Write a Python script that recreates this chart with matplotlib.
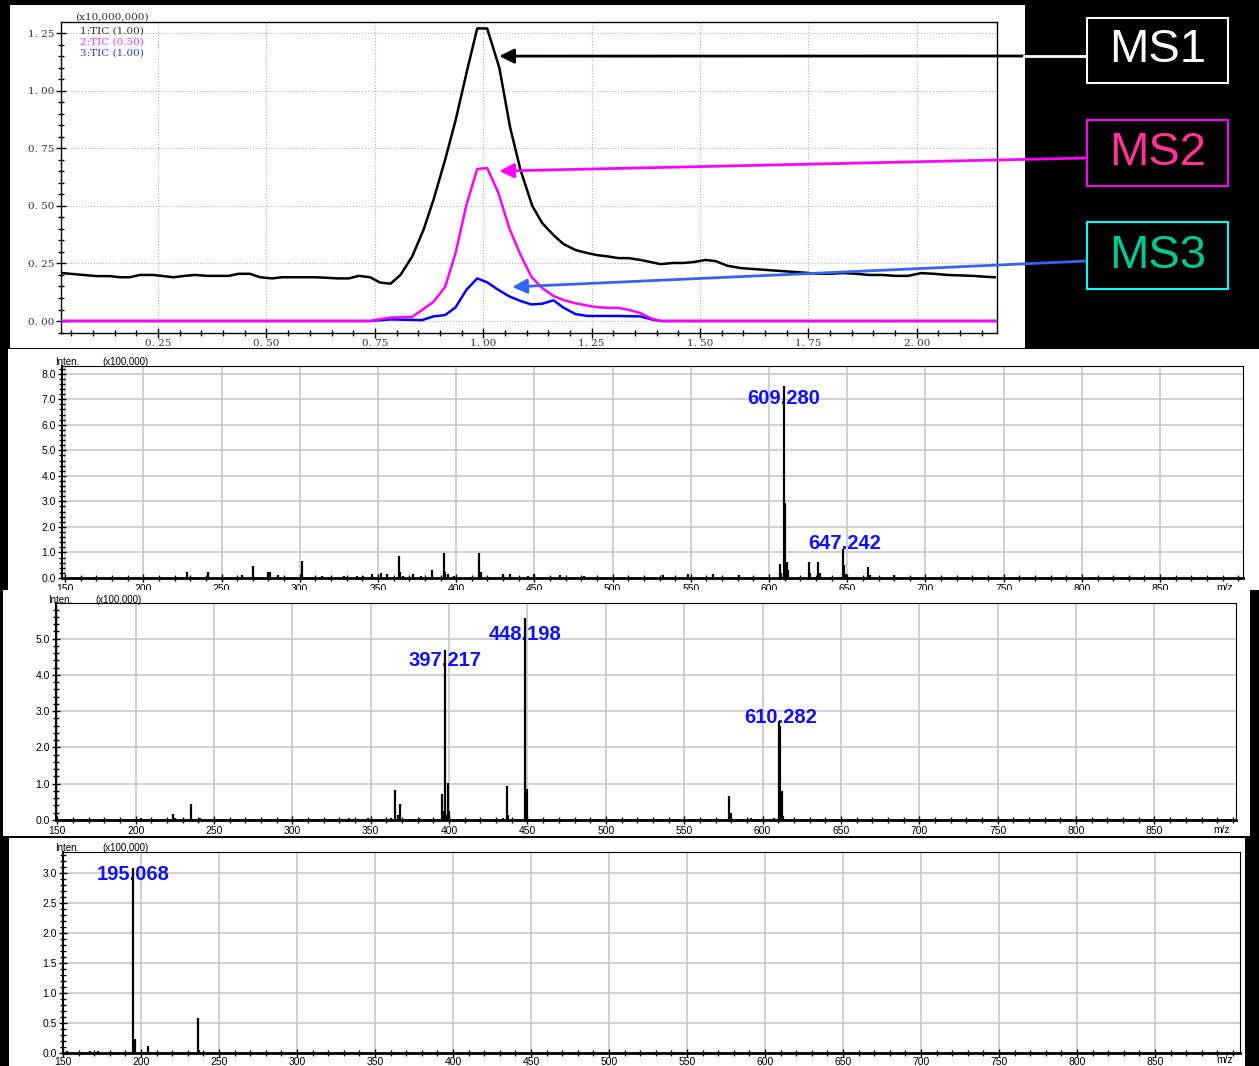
import matplotlib
matplotlib.use("Agg")
import matplotlib.pyplot as plt
from matplotlib.patches import Rectangle
from matplotlib.lines import Line2D
from matplotlib.ticker import MultipleLocator, FuncFormatter

# --- datos del cromatograma (min, x10,000,000) ---
ms1_t = [0.030, 0.077, 0.109, 0.139, 0.162, 0.185, 0.208, 0.238, 0.262, 0.285,
         0.312, 0.335, 0.363, 0.386, 0.413, 0.435, 0.462, 0.485, 0.513, 0.536,
         0.563, 0.586, 0.613, 0.636, 0.663, 0.690, 0.713, 0.739, 0.762, 0.786,
         0.809, 0.836, 0.862, 0.885, 0.912, 0.936, 0.963, 0.986, 1.009, 1.037,
         1.062, 1.086, 1.113, 1.136, 1.162, 1.185, 1.213, 1.240, 1.263, 1.289,
         1.312, 1.335, 1.363, 1.386, 1.409, 1.437, 1.462, 1.485, 1.513, 1.536,
         1.563, 1.593, 1.620, 1.650, 1.680, 1.710, 1.740, 1.770, 1.800, 1.830,
         1.860, 1.890, 1.920, 1.950, 1.980, 2.010, 2.040, 2.070, 2.100, 2.130,
         2.160, 2.180]
ms1_y = [0.208, 0.200, 0.195, 0.195, 0.190, 0.190, 0.200, 0.200, 0.195, 0.190,
         0.196, 0.200, 0.196, 0.196, 0.196, 0.205, 0.205, 0.190, 0.185, 0.190,
         0.190, 0.190, 0.190, 0.188, 0.185, 0.185, 0.196, 0.190, 0.167, 0.162,
         0.200, 0.280, 0.395, 0.525, 0.700, 0.870, 1.090, 1.270, 1.270, 1.100,
         0.840, 0.655, 0.500, 0.425, 0.373, 0.334, 0.308, 0.295, 0.286, 0.280,
         0.273, 0.273, 0.265, 0.256, 0.247, 0.252, 0.252, 0.256, 0.265, 0.260,
         0.240, 0.230, 0.226, 0.222, 0.218, 0.214, 0.210, 0.205, 0.205, 0.208,
         0.205, 0.200, 0.200, 0.196, 0.196, 0.208, 0.205, 0.200, 0.198, 0.196,
         0.192, 0.190]

ms2_t = [0.030, 0.739, 0.762, 0.786, 0.836, 0.859, 0.885, 0.912, 0.936, 0.961,
         0.986, 1.009, 1.035, 1.060, 1.086, 1.111, 1.136, 1.162, 1.185, 1.213,
         1.240, 1.263, 1.289, 1.312, 1.337, 1.363, 1.386, 1.409, 2.185]
ms2_y = [0.0, 0.0, 0.008, 0.015, 0.018, 0.048, 0.083, 0.148, 0.294, 0.503,
         0.660, 0.664, 0.556, 0.403, 0.287, 0.192, 0.143, 0.109, 0.091, 0.077,
         0.067, 0.060, 0.057, 0.057, 0.048, 0.034, 0.012, 0.0, 0.0]

ms3_t = [0.030, 0.739, 0.786, 0.859, 0.885, 0.912, 0.936, 0.961, 0.986, 1.009,
         1.035, 1.060, 1.086, 1.111, 1.136, 1.162, 1.185, 1.213, 1.240, 1.312,
         1.363, 1.386, 1.409, 2.185]
ms3_y = [0.0, 0.0, 0.007, 0.004, 0.020, 0.026, 0.059, 0.135, 0.185, 0.168,
         0.135, 0.107, 0.087, 0.072, 0.075, 0.090, 0.058, 0.030, 0.022, 0.022,
         0.020, 0.008, 0.0, 0.0]

tic_labels = ["1:TIC (1.00)", "2:TIC (0.50)", "3:TIC (1.00)"]
tic_colors = ["#000000", "#ff00ff", "#0000ff"]

# --- espectros (m/z, x100,000) ---
specA_mz = [221.0, 228.0, 230.5, 241.5, 250.5, 262.9, 269.8, 279.6, 280.7, 286.0,
            301.7, 314.0, 328.0, 336.5, 340.7, 346.0, 352.0, 356.0, 363.5, 364.3,
            366.2, 372.2, 377.5, 384.7, 392.0, 393.0, 394.7, 398.3, 414.5, 415.7,
            430.0, 434.5, 446.0, 449.9, 466.5, 482.0, 532.0, 548.4, 564.0, 581.0,
            607.0, 607.6, 609.28, 610.28, 611.3, 612.2, 625.3, 626.3, 631.2, 632.4,
            647.242, 648.2, 649.3, 663.2, 664.3, 679.6]
specA_int = [0.05, 0.25, 0.05, 0.25, 0.05, 0.10, 0.47, 0.22, 0.22, 0.10,
             0.66, 0.06, 0.06, 0.06, 0.06, 0.15, 0.20, 0.16, 0.86, 0.25,
             0.06, 0.15, 0.07, 0.31, 0.96, 0.25, 0.15, 0.07, 0.96, 0.25,
             0.15, 0.15, 0.07, 0.15, 0.12, 0.07, 0.12, 0.15, 0.16, 0.10,
             0.55, 0.20, 7.50, 2.94, 0.64, 0.30, 0.63, 0.20, 0.63, 0.20,
             1.12, 0.50, 0.16, 0.42, 0.12, 0.10]
specA_tags = ["609.280", "647.242"]

specB_mz = [203.7, 223.9, 225.0, 235.6, 241.3, 336.0, 348.3, 354.6, 363.0, 365.2,
            367.2, 368.4, 381.0, 395.6, 396.3, 397.217, 398.3, 399.1, 400.0, 412.8,
            434.3, 436.7, 437.8, 448.198, 449.7, 578.4, 579.8, 592.4, 607.3, 610.282,
            611.1, 612.4, 613.3]
specB_int = [0.05, 0.16, 0.05, 0.44, 0.05, 0.05, 0.05, 0.03, 0.06, 0.83,
             0.14, 0.44, 0.06, 0.72, 0.25, 4.68, 0.14, 1.02, 0.25, 0.04,
             0.06, 0.94, 0.15, 5.56, 0.86, 0.65, 0.20, 0.05, 0.06, 2.73,
             2.60, 0.81, 0.10]
specB_tags = ["397.217", "448.198", "610.282"]

specC_mz = [152.5, 167.5, 172.2, 195.068, 196.1, 204.3, 236.3, 237.2]
specC_int = [0.03, 0.04, 0.04, 3.08, 0.24, 0.11, 0.58, 0.05]
specC_tags = ["195.068"]

mz_ticks = [150, 200, 250, 300, 350, 400, 450, 500, 550, 600, 650, 700, 750, 800, 850]

W, H = 1259, 1066


def frac(x0, y0, x1, y1):
    return [x0 / W, 1 - y1 / H, (x1 - x0) / W, (y1 - y0) / H]


def fp(px, py):
    return px / W, 1 - py / H


fig = plt.figure(figsize=(W / 100, H / 100), dpi=100, facecolor="black")


def panel(x0, y0, x1, y1, z):
    fig.add_artist(Rectangle((x0 / W, 1 - y1 / H), (x1 - x0) / W, (y1 - y0) / H,
                             transform=fig.transFigure, fc="white", ec="none", zorder=z))


# ---------------- cromatograma ----------------
panel(10, 5, 1025, 348, 0.5)
ax0 = fig.add_axes(frac(61, 22, 997, 333), zorder=1)
ax0.plot(ms1_t, ms1_y, color=tic_colors[0], lw=1.8, zorder=3)
ax0.plot(ms3_t, ms3_y, color=tic_colors[2], lw=1.8, zorder=3)
ax0.plot(ms2_t, ms2_y, color=tic_colors[1], lw=1.8, zorder=3)
ax0.set_xlim(0.026, 2.185)
ax0.set_ylim(-0.052, 1.298)
ax0.set_xticks([0.25, 0.50, 0.75, 1.00, 1.25, 1.50, 1.75, 2.00])
ax0.set_yticks([0.0, 0.25, 0.50, 0.75, 1.00, 1.25])
ax0.xaxis.set_minor_locator(MultipleLocator(0.05))
ax0.yaxis.set_minor_locator(MultipleLocator(0.05))
fmt = FuncFormatter(lambda v, p: f"{v:.2f}".replace(".", ". "))
ax0.xaxis.set_major_formatter(fmt)
ax0.yaxis.set_major_formatter(fmt)
ax0.tick_params(which="major", direction="inout", length=7, width=1, labelsize=7.5,
                pad=1, labelcolor="#333333", labelfontfamily="DejaVu Serif")
ax0.tick_params(which="minor", direction="inout", length=4, width=1)
ax0.grid(True, which="major", ls=":", color="#b0b0b0", lw=0.8)
for s in ax0.spines.values():
    s.set_linewidth(1.0)

ax0.text(*fp(75, 17), "(x10,000,000)", transform=fig.transFigure, fontsize=7.5,
         family="DejaVu Serif", color="#333333", va="center", ha="left")
for i, (lab, col) in enumerate(zip(tic_labels, tic_colors)):
    ax0.text(*fp(80, 31 + 11 * i), lab, transform=fig.transFigure, fontsize=7.5,
             family="DejaVu Serif", color=col, va="center", ha="left", alpha=0.8)

# flechas hacia los picos
fT = fig.transFigure
ax0.annotate("", xy=(1.037, 1.15), xytext=fp(1025, 56), textcoords=fT,
             arrowprops=dict(arrowstyle="-|>", color="black", lw=2, mutation_scale=22,
                             shrinkA=0, shrinkB=0), annotation_clip=False)
fig.add_artist(Line2D([1024 / W, 1087 / W], [1 - 56 / H, 1 - 56 / H], color="white",
                      lw=2, transform=fT, zorder=1.2))
ax0.annotate("", xy=(1.037, 0.651), xytext=fp(1087, 158), textcoords=fT,
             arrowprops=dict(arrowstyle="-|>", color="#ff00ff", lw=2, mutation_scale=22,
                             shrinkA=0, shrinkB=0), annotation_clip=False)
ax0.annotate("", xy=(1.067, 0.148), xytext=fp(1087, 261), textcoords=fT,
             arrowprops=dict(arrowstyle="-|>", color="#3366f0", lw=2, mutation_scale=22,
                             shrinkA=0, shrinkB=0), annotation_clip=False)

# cajas MS1 / MS2 / MS3
boxes = [("MS1", 18, 83, "white", "white"),
         ("MS2", 120, 186, "#ff00ff", "#ff3399"),
         ("MS3", 222, 289, "#00ffff", "#00c896")]
for name, y0, y1, ec, tc in boxes:
    fig.add_artist(Rectangle((1087 / W, 1 - y1 / H), 141 / W, (y1 - y0) / H,
                             transform=fT, fc="black", ec=ec, lw=1.5, zorder=1.5))
    fig.text(1157.5 / W, 1 - (y0 + y1) / 2 / H, name, fontsize=34, color=tc,
             family="Liberation Sans", ha="center", va="center", zorder=1.6)


# ---------------- espectros ----------------
def spectrum(box, z, mz, inten, xlim, ytop, ymaj, ymin, tags, tag_pos, lab_px, mz_px,
             xpad=1.5):
    ax = fig.add_axes(frac(*box), zorder=z)
    ax.vlines(mz, 0, inten, color="black", lw=1.6, zorder=3)
    ax.set_xlim(*xlim)
    ax.set_ylim(0, ytop)
    ax.set_xticks(mz_ticks)
    ax.xaxis.set_minor_locator(MultipleLocator(10))
    ax.yaxis.set_major_locator(MultipleLocator(ymaj))
    ax.yaxis.set_minor_locator(MultipleLocator(ymin))
    ax.yaxis.set_major_formatter(FuncFormatter(lambda v, p: f"{v:.1f}"))
    ax.tick_params(which="major", direction="inout", length=6, width=1, labelsize=7.5,
                   pad=1.5, labelfontfamily="Liberation Sans")
    ax.tick_params(axis="x", which="major", pad=xpad)
    ax.tick_params(which="minor", direction="inout", length=4, width=1)
    ax.grid(True, which="major", color="#c8c8c8", lw=1.2, zorder=0)
    ax.set_axisbelow(True)
    ax.spines["bottom"].set_linewidth(2)
    ax.spines["left"].set_linewidth(1.5)
    for t, (x, y) in zip(tags, tag_pos):
        ax.text(x, y, t, color="#1010ff", fontsize=14.5, fontweight="bold",
                family="Liberation Sans", ha="center", va="center", zorder=2)
    ax.text(*fp(*lab_px), "Inten.", transform=fig.transFigure, fontsize=7,
            family="Liberation Sans", va="center", ha="left")
    ax.text(*fp(lab_px[0] + 47, lab_px[1]), "(x100,000)", transform=fig.transFigure,
            fontsize=7, family="Liberation Sans", va="center", ha="left")
    ax.text(*fp(*mz_px), "m/z", transform=fig.transFigure, fontsize=7.5,
            family="Liberation Sans", va="center", ha="center")
    return ax


panel(8, 349, 1259, 590, 1.5)
spectrum((62, 366, 1243, 578), 2, specA_mz, specA_int, (148, 903), 8.3, 1.0, 0.2,
         specA_tags, [(609.28, 7.03), (648.1, 1.37)], (55, 362), (1225, 588))

panel(3, 590, 1250, 836, 2.5)
spectrum((56, 603, 1236, 820), 3, specB_mz, specB_int, (149.2, 902), 5.98, 1.0, 0.2,
         specB_tags, [(397.3, 4.39), (448.4, 5.11), (611.4, 2.83)], (48, 600), (1222, 830))

panel(9, 838, 1245, 1066, 3.5)
spectrum((63, 852, 1240, 1053), 4, specC_mz, specC_int, (150, 904.5), 3.35, 0.5, 0.1,
         specC_tags, [(195.3, 2.97)], (55, 848), (1225, 1060), xpad=0)

fig.savefig("out.png", dpi=100, facecolor="black")
